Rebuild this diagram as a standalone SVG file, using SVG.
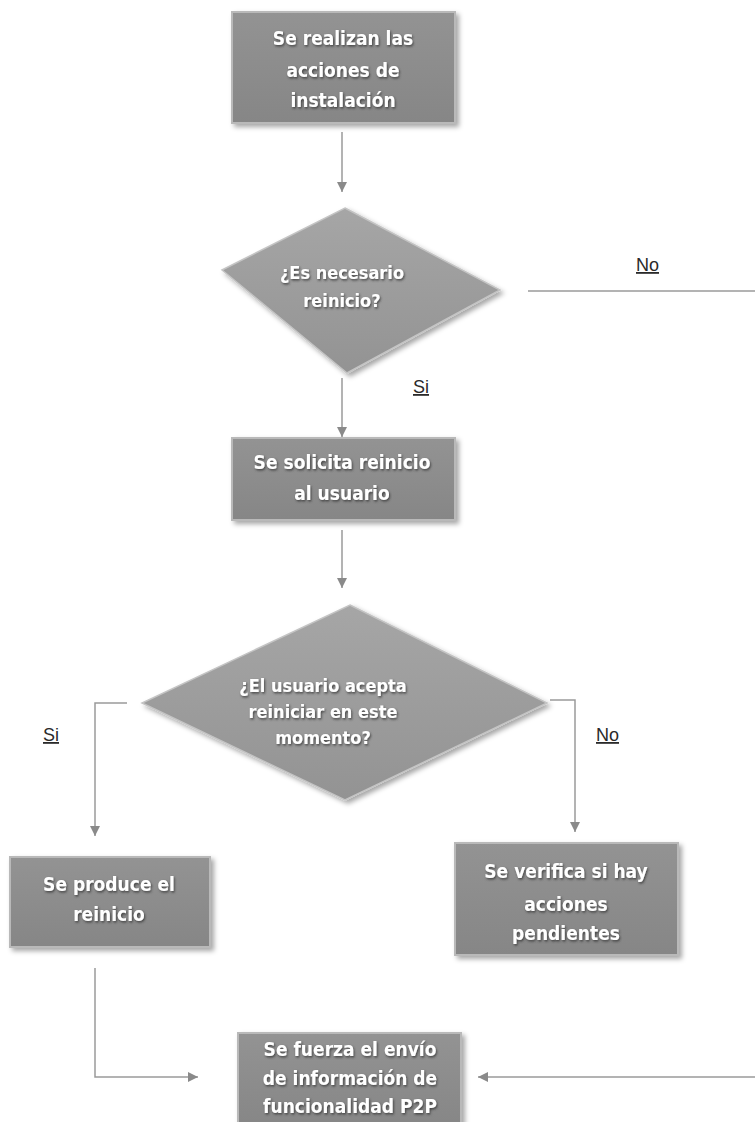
<svg xmlns="http://www.w3.org/2000/svg" width="755" height="1122" viewBox="0 0 755 1122">
<defs>
  <linearGradient id="boxFill" x1="0" y1="0" x2="0" y2="1">
    <stop offset="0" stop-color="#939393"/>
    <stop offset="1" stop-color="#868686"/>
  </linearGradient>
  <linearGradient id="diaFill" x1="0" y1="0" x2="0" y2="1">
    <stop offset="0" stop-color="#a6a6a6"/>
    <stop offset="1" stop-color="#939393"/>
  </linearGradient>
  <filter id="shadow" x="-10%" y="-10%" width="125%" height="130%">
    <feDropShadow dx="3" dy="3" stdDeviation="2.5" flood-color="#000" flood-opacity="0.35"/>
  </filter>
  <filter id="txtShadow" x="-10%" y="-20%" width="120%" height="150%">
    <feDropShadow dx="1" dy="1.5" stdDeviation="1" flood-color="#333" flood-opacity="0.8"/>
  </filter>
  <marker id="arrow" viewBox="0 0 10 10" refX="10" refY="5" markerWidth="10" markerHeight="10" markerUnits="userSpaceOnUse" orient="auto">
    <path d="M0,0 L10,5 L0,10 z" fill="#8a8a8a"/>
  </marker>
</defs>
<style>
  .box { fill: url(#boxFill); stroke: #b9b9b9; stroke-width: 2; filter: url(#shadow); }
  .dia { fill: url(#diaFill); stroke: #c4c4c4; stroke-width: 1.5; filter: url(#shadow); }
  .t { font-family: "Liberation Sans Narrow", "DejaVu Sans Condensed", "Open Sans", sans-serif; font-weight: bold; font-size: 19px; fill: #ffffff; text-anchor: middle; filter: url(#txtShadow); }
  .td { font-size: 18px; }
  .lbl { font-family: "Liberation Sans", Arial, sans-serif; font-size: 18px; fill: #2a2a2a; text-decoration: underline; }
  .c { fill: none; stroke: #9a9a9a; stroke-width: 1.5; }
</style>

<g id="connectors">
  <line class="c" x1="342" y1="132" x2="342" y2="192" marker-end="url(#arrow)"/>
  <line class="c" x1="342" y1="378" x2="342" y2="437" marker-end="url(#arrow)"/>
  <line class="c" x1="342" y1="530" x2="342" y2="588" marker-end="url(#arrow)"/>
  <line class="c" x1="528" y1="291" x2="755" y2="291"/>
  <polyline class="c" points="127,703 95,703 95,836" marker-end="url(#arrow)"/>
  <polyline class="c" points="550,700 575,700 575,832" marker-end="url(#arrow)"/>
  <polyline class="c" points="95,968 95,1077 198,1077" marker-end="url(#arrow)"/>
  <line class="c" x1="755" y1="1077" x2="478" y2="1077" marker-end="url(#arrow)"/>
  <text class="lbl" x="636" y="271">No</text>
  <text class="lbl" x="413" y="393">Si</text>
  <text class="lbl" x="43" y="741">Si</text>
  <text class="lbl" x="596" y="741">No</text>
</g>

<g id="n1">
  <rect class="box" x="232" y="12" width="223" height="111"/>
  <text class="t" x="343" y="45">Se realizan las</text>
  <text class="t" x="343" y="77">acciones de</text>
  <text class="t" x="343" y="107">instalación</text>
</g>

<g id="n2">
  <polygon class="dia" points="345,208 500,290 347,373 222,270"/>
  <text class="t td" x="342" y="279">¿Es necesario</text>
  <text class="t td" x="342" y="307">reinicio?</text>
</g>

<g id="n3">
  <rect class="box" x="232" y="438" width="223" height="82"/>
  <text class="t" x="342" y="469">Se solicita reinicio</text>
  <text class="t" x="342" y="500">al usuario</text>
</g>

<g id="n4">
  <polygon class="dia" points="350,605 547,703 345,800 142,703"/>
  <text class="t td" x="323" y="692">¿El usuario acepta</text>
  <text class="t td" x="323" y="718">reiniciar en este</text>
  <text class="t td" x="323" y="744">momento?</text>
</g>

<g id="n5">
  <rect class="box" x="10" y="857" width="200" height="90"/>
  <text class="t" x="109" y="891">Se produce  el</text>
  <text class="t" x="109" y="921">reinicio</text>
</g>

<g id="n6">
  <rect class="box" x="455" y="843" width="223" height="112"/>
  <text class="t" x="566" y="878">Se verifica si hay</text>
  <text class="t" x="566" y="911">acciones</text>
  <text class="t" x="566" y="940">pendientes</text>
</g>

<g id="n7">
  <rect class="box" x="238" y="1033" width="223" height="95"/>
  <text class="t" x="350" y="1056">Se fuerza el envío</text>
  <text class="t" x="350" y="1085">de información de</text>
  <text class="t" x="350" y="1113">funcionalidad  P2P</text>
</g>
</svg>
